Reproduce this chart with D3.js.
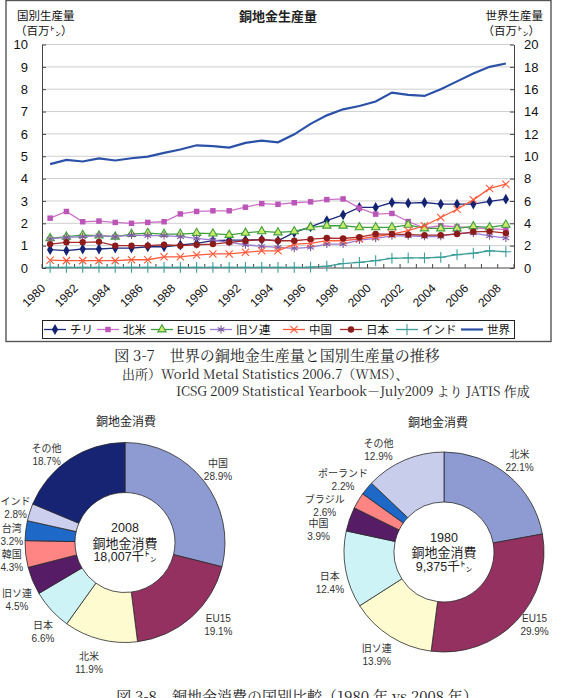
<!DOCTYPE html>
<html>
<head>
<meta charset="utf-8">
<script src="https://cdn.jsdelivr.net/npm/d3@7"></script>
<style>
body{margin:0;background:#fff}
svg{display:block;font-family:"Liberation Sans","Noto Sans CJK JP",sans-serif}
</style>
</head>
<body>
<svg id="chart" width="561" height="698"></svg>
<script>
// 年（カテゴリ）
var years=["1980","1981","1982","1983","1984","1985","1986","1987","1988","1989","1990","1991","1992","1993","1994",
           "1995","1996","1997","1998","1999","2000","2001","2002","2003","2004","2005","2006","2007","2008"];
// 国別生産量（百万トン、左軸）
var chile=[0.82,0.78,0.85,0.85,0.89,0.89,0.95,0.95,1.03,1.10,1.22,1.25,1.25,1.27,1.22,1.59,1.84,2.12,2.38,2.71,2.71,2.93,2.90,2.93,2.86,2.86,2.86,2.98,3.08];
var northAmerica=[2.23,2.53,2.07,2.10,2.04,2.00,2.04,2.07,2.42,2.53,2.56,2.56,2.72,2.88,2.85,2.92,2.96,3.06,3.09,2.68,2.41,2.44,2.08,1.79,1.89,1.84,1.80,1.76,1.72];
var eu15=[1.33,1.40,1.47,1.45,1.40,1.52,1.56,1.52,1.52,1.56,1.54,1.48,1.57,1.64,1.59,1.64,1.82,1.89,1.89,1.82,1.82,1.82,1.93,1.77,1.77,1.77,1.86,1.82,1.93];
var ussr=[1.30,1.37,1.40,1.45,1.40,1.47,1.45,1.45,1.40,1.33,1.25,1.15,1.04,0.97,0.92,0.88,0.92,1.07,1.07,1.25,1.33,1.44,1.44,1.41,1.41,1.56,1.56,1.44,1.34];
var china=[0.35,0.33,0.33,0.33,0.33,0.37,0.37,0.50,0.50,0.58,0.63,0.63,0.70,0.77,0.77,1.07,1.10,1.22,1.22,1.30,1.41,1.52,1.67,1.89,2.26,2.63,3.05,3.56,3.75];
var japan=[1.07,1.15,1.15,1.17,1.00,1.00,1.00,1.04,1.00,1.04,1.07,1.15,1.22,1.27,1.22,1.22,1.29,1.34,1.32,1.38,1.52,1.52,1.49,1.47,1.47,1.52,1.62,1.64,1.56];
var india=[0.03,0.03,0.03,0.03,0.03,0.03,0.03,0.03,0.03,0.03,0.03,0.03,0.03,0.03,0.03,0.03,0.04,0.08,0.20,0.25,0.33,0.43,0.45,0.45,0.48,0.60,0.66,0.77,0.73];
// 世界生産量（百万トン、右軸）
var world=[9.30,9.67,9.53,9.80,9.62,9.82,9.97,10.3,10.6,10.98,10.9,10.78,11.2,11.4,11.25,11.96,12.9,13.66,14.2,14.5,14.9,15.7,15.5,15.4,16.0,16.7,17.4,18.0,18.3];
var leftTicks=[0,1,2,3,4,5,6,7,8,9,10];
var rightTicks=[0,2,4,6,8,10,12,14,16,18,20];
var yearLabels=["1980","1982","1984","1986","1988","1990","1992","1994","1996","1998","2000","2002","2004","2006","2008"];

// 銅地金消費
var names2008=["中国","EU15","北米","日本","旧ソ連","韓国","台湾","インド","その他"];
var share2008=[28.9,19.1,11.9,6.6,4.5,4.3,3.2,2.8,18.7];
var names1980=["北米","EU15","旧ソ連","日本","中国","ブラジル","ポーランド","その他"];
var share1980=[22.1,29.9,13.9,12.4,3.9,2.6,2.2,12.9];

var svg=d3.select("#chart");

// ---- 上のグラフ ----
svg.append("rect").attr("x",6).attr("y",0.5).attr("width",545).attr("height",341)
   .attr("fill","#fff").attr("stroke","#555").attr("stroke-width",1.4);

var x=d3.scaleBand().domain(years).range([42,514]);
var yL=d3.scaleLinear().domain([0,10]).range([268,44.5]);
var yR=d3.scaleLinear().domain([0,20]).range([268,44.5]);

svg.append("g").selectAll("line").data(leftTicks.slice(1)).enter().append("line")
   .attr("x1",42).attr("x2",514)
   .attr("y1",function(d){return yL(d)}).attr("y2",function(d){return yL(d)})
   .attr("stroke","#cfcfcf").attr("stroke-width",1);

var axL=svg.append("g").attr("transform","translate(42,0)")
   .call(d3.axisLeft(yL).tickValues(leftTicks).tickSize(-4).tickSizeOuter(0).tickPadding(14));
var axR=svg.append("g").attr("transform","translate(514,0)")
   .call(d3.axisRight(yR).tickValues(rightTicks).tickSize(-4).tickSizeOuter(0).tickPadding(10));
[axL,axR].forEach(function(a){
  a.attr("font-size",13).attr("font-family","Liberation Sans, Noto Sans CJK JP, sans-serif");
  a.select(".domain").attr("stroke","#444");
  a.selectAll(".tick line").attr("stroke","#444");
  a.selectAll(".tick text").attr("fill","#111");
});

// x軸
var xa=svg.append("g");
xa.append("line").attr("x1",42).attr("x2",514).attr("y1",268).attr("y2",268).attr("stroke","#444");
xa.selectAll(".xt").data(years.concat(["end"])).enter().append("line")
  .attr("x1",function(d){return d=="end"?x.range()[1]:x(d)})
  .attr("x2",function(d){return d=="end"?x.range()[1]:x(d)})
  .attr("y1",268).attr("y2",264).attr("stroke","#444");
xa.selectAll("text").data(yearLabels).enter().append("text")
  .attr("transform",function(d){return "translate("+(x(d)+x.bandwidth()/2-7)+",286) rotate(-45)"})
  .attr("text-anchor","end").attr("dy","0.35em")
  .attr("font-size",12).attr("fill","#111").text(function(d){return d});

// 系列
function sym(t,fb){return t||fb}
var series=[
  {name:"チリ",values:chile,scale:yL,color:"#1c2b7e",mark:d3.symbolDiamond,size:34,fill:"#132372",stroke:"none"},
  {name:"北米",values:northAmerica,scale:yL,color:"#cc70c8",mark:d3.symbolSquare,size:30,fill:"#bb55b8",stroke:"none"},
  {name:"EU15",values:eu15,scale:yL,color:"#3f9f3f",mark:d3.symbolTriangle,size:30,fill:"#cdeb6a",stroke:"#3f9f3f"},
  {name:"旧ソ連",values:ussr,scale:yL,color:"#9a7ad0",mark:sym(d3.symbolAsterisk,d3.symbolCross),size:42,fill:"none",stroke:"#7b5a9c"},
  {name:"中国",values:china,scale:yL,color:"#ff5a3a",mark:sym(d3.symbolX,d3.symbolCross),size:36,fill:"none",stroke:"#ff5a3a"},
  {name:"日本",values:japan,scale:yL,color:"#a82a2a",mark:d3.symbolCircle,size:32,fill:"#8c1c1c",stroke:"none"},
  {name:"インド",values:india,scale:yL,color:"#3e9e9a",mark:sym(d3.symbolPlus,d3.symbolCross),size:40,fill:"none",stroke:"#3e9e9a"},
  {name:"世界",values:world,scale:yR,color:"#2a50a8",mark:null,width:2.2}
];

var cx=function(i){return x(years[i])+x.bandwidth()/2};
series.forEach(function(s){
  var line=d3.line().x(function(d,i){return cx(i)}).y(function(d){return s.scale(d)});
  svg.append("path").datum(s.values).attr("d",line)
     .attr("fill","none").attr("stroke",s.color).attr("stroke-width",s.width||1.3);
  if(s.mark){
    svg.append("g").selectAll("path").data(s.values).enter().append("path")
       .attr("transform",function(d,i){return "translate("+cx(i)+","+s.scale(d)+")"})
       .attr("d",d3.symbol().type(s.mark).size(s.size))
       .attr("fill",s.fill).attr("stroke",s.stroke).attr("stroke-width",1.1);
  }
});

// 見出し
var hd=svg.append("g").attr("font-size",11.5).attr("fill","#111");
hd.append("text").attr("x",17).attr("y",20).text("国別生産量");
hd.append("text").attr("x",15).attr("y",35).text("（百万㌧）");
hd.append("text").attr("x",543).attr("y",20).attr("text-anchor","end").text("世界生産量");
hd.append("text").attr("x",540).attr("y",35).attr("text-anchor","end").text("（百万㌧）");
svg.append("text").attr("x",278).attr("y",21).attr("text-anchor","middle")
   .attr("font-size",13).attr("font-weight","bold").attr("fill","#222").text("銅地金生産量");

// 凡例
var lg=svg.append("g");
lg.append("rect").attr("x",42.5).attr("y",320.5).attr("width",472).attr("height",18)
  .attr("fill","#fff").attr("stroke","#222");
var legX=[44,97,151,210,283,340,396,461];
series.forEach(function(s,i){
  var g=lg.append("g").attr("transform","translate("+legX[i]+",329.5)");
  g.append("line").attr("x1",0).attr("x2",22).attr("stroke",s.color).attr("stroke-width",s.width||1.3);
  if(s.mark){
    g.append("path").attr("transform","translate(11,0)")
     .attr("d",d3.symbol().type(s.mark).size(s.size))
     .attr("fill",s.fill).attr("stroke",s.stroke).attr("stroke-width",1.1);
  }
  g.append("text").attr("x",26).attr("dy","0.36em").attr("font-size",11.5).attr("fill","#111").text(s.name);
});

// キャプション
var serif="Noto Serif CJK JP, Liberation Serif, Noto Sans CJK JP, serif";
svg.append("text").attr("x",277).attr("y",361).attr("text-anchor","middle").attr("font-family",serif)
   .attr("font-size",15).attr("fill","#222").text("図 3-7　世界の銅地金生産量と国別生産量の推移");
svg.append("text").attr("x",122).attr("y",379).attr("font-family",serif)
   .attr("font-size",13).attr("fill","#222").text("出所）World Metal Statistics 2006.7（WMS）、");
svg.append("text").attr("x",176).attr("y",396).attr("font-family",serif)
   .attr("font-size",13).attr("fill","#222").text("ICSG 2009 Statistical Yearbook－July2009 より JATIS 作成");
svg.append("text").attr("x",297).attr("y",702).attr("text-anchor","middle").attr("font-family",serif)
   .attr("font-size",15).attr("fill","#222").text("図 3-8　銅地金消費の国別比較（1980 年 vs 2008 年）");

// ---- ドーナツ ----
var colors2008=["#8e9bd2","#943160","#fffbd0","#cdf3f6","#571c66","#ff8585","#1e68c8","#ccd0ee","#172474"];
var colors1980=["#8e9bd2","#943160","#fffbd0","#cdf3f6","#571c66","#ff8585","#1e68c8","#c9cdec"];
var nudge2008=[[0,0],[15,-6],[-7,6],[5,10],[1,12],[4,5],[4,7],[3,1],[-13,11]];
var nudge1980=[[0,0],[5,-8],[-4,3],[2,10],[-14,17],[-18,15],[-10,3],[-19,6]];

function donut(cxp,cyp,names,vals,cols,nudge,year,total,titleX,titleY){
  var g=svg.append("g").attr("transform","translate("+cxp+","+cyp+")");
  var pie=d3.pie().sort(null).value(function(d){return d});
  var arcs=pie(vals);
  var arc=d3.arc().innerRadius(50).outerRadius(100);
  var lab=d3.arc().innerRadius(118).outerRadius(118);
  g.selectAll("path").data(arcs).enter().append("path")
   .attr("d",arc).attr("fill",function(d,i){return cols[i]})
   .attr("stroke","#2a2a2a").attr("stroke-width",0.8);
  var t=g.selectAll(".lab").data(arcs).enter().append("text")
   .attr("text-anchor","middle").attr("font-size",10).attr("fill","#333")
   .attr("transform",function(d,i){var c=lab.centroid(d);return "translate("+(c[0]+nudge[i][0])+","+(c[1]+nudge[i][1])+")"});
  t.append("tspan").attr("x",0).attr("y",-6.5).attr("dy","0.35em").text(function(d,i){return names[i]});
  t.append("tspan").attr("x",0).attr("y",6.5).attr("dy","0.35em").text(function(d){return d.data.toFixed(1)+"%"});
  var c=g.append("g").attr("text-anchor","middle").attr("fill","#222");
  c.append("text").attr("y",-14.5).attr("dy","0.35em").attr("font-size",12.5).text(year);
  c.append("text").attr("y",0.5).attr("dy","0.35em").attr("font-size",13).text("銅地金消費");
  c.append("text").attr("y",14.5).attr("dy","0.35em").attr("font-size",12.5).text(total);
  svg.append("text").attr("x",titleX).attr("y",titleY).attr("text-anchor","middle")
     .attr("font-size",12).attr("fill","#222").text("銅地金消費");
}
donut(125,542.5,names2008,share2008,colors2008,nudge2008,"2008","18,007千㌧",126,426);
donut(444,552,names1980,share1980,colors1980,nudge1980,"1980","9,375千㌧",438,427);
</script>
</body>
</html>
